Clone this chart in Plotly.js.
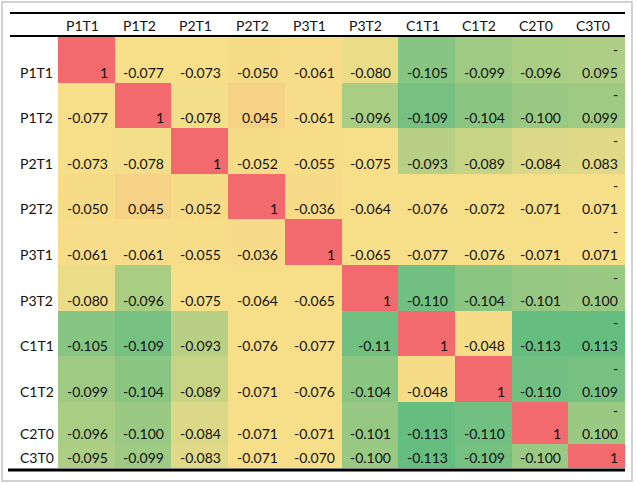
<!DOCTYPE html>
<html>
<head>
<meta charset="utf-8">
<script src="https://cdn.plot.ly/plotly-3.0.1.min.js"></script>
<style>
  html, body { margin: 0; padding: 0; background: #ffffff; }
  #chart { width: 637px; height: 484px; }
</style>
</head>
<body>
<div id="chart"></div>
<script>
// ---- data (displayed cell text, row by row) ----
var columns = ["P1T1", "P1T2", "P2T1", "P2T2", "P3T1", "P3T2", "C1T1", "C1T2", "C2T0", "C3T0"];
var rowsLabels = ["P1T1", "P1T2", "P2T1", "P2T2", "P3T1", "P3T2", "C1T1", "C1T2", "C2T0", "C3T0"];
var rowP1T1 = ["1", "-0.077", "-0.073", "-0.050", "-0.061", "-0.080", "-0.105", "-0.099", "-0.096", "-0.095"];
var rowP1T2 = ["-0.077", "1", "-0.078", "0.045", "-0.061", "-0.096", "-0.109", "-0.104", "-0.100", "-0.099"];
var rowP2T1 = ["-0.073", "-0.078", "1", "-0.052", "-0.055", "-0.075", "-0.093", "-0.089", "-0.084", "-0.083"];
var rowP2T2 = ["-0.050", "0.045", "-0.052", "1", "-0.036", "-0.064", "-0.076", "-0.072", "-0.071", "-0.071"];
var rowP3T1 = ["-0.061", "-0.061", "-0.055", "-0.036", "1", "-0.065", "-0.077", "-0.076", "-0.071", "-0.071"];
var rowP3T2 = ["-0.080", "-0.096", "-0.075", "-0.064", "-0.065", "1", "-0.110", "-0.104", "-0.101", "-0.100"];
var rowC1T1 = ["-0.105", "-0.109", "-0.093", "-0.076", "-0.077", "-0.11", "1", "-0.048", "-0.113", "-0.113"];
var rowC1T2 = ["-0.099", "-0.104", "-0.089", "-0.071", "-0.076", "-0.104", "-0.048", "1", "-0.110", "-0.109"];
var rowC2T0 = ["-0.096", "-0.100", "-0.084", "-0.071", "-0.071", "-0.101", "-0.113", "-0.110", "1", "-0.100"];
var rowC3T0 = ["-0.095", "-0.099", "-0.083", "-0.071", "-0.070", "-0.100", "-0.113", "-0.109", "-0.100", "1"];
var cellText = [rowP1T1, rowP1T2, rowP2T1, rowP2T2, rowP3T1, rowP3T2, rowC1T1, rowC1T2, rowC2T0, rowC3T0];

// ---- layout / style (pixel geometry of the table) ----
var W = 637, H = 484;
var L = 58, R = 625, T = 37, B = 468;
var rowHeights = [45.6, 45.6, 45.6, 45.6, 45.6, 45.6, 45.6, 45.6, 42, 24];
var FONT = "Lato, 'Open Sans', sans-serif";
var TEXT_COLOR = "#111111";
var GREEN = "#66bd80", YELLOW = "#f7df89", RED = "#f2696e";

var z = cellText.map(function (r) { return r.map(parseFloat); });

// Excel 3-colour scale: min -> green, 50th percentile -> yellow, max -> red
var all = [];
z.forEach(function (r) { r.forEach(function (v) { all.push(v); }); });
all.sort(function (a, b) { return a - b; });
var zmin = all[0], zmax = all[all.length - 1];
var median = (all[all.length / 2 - 1] + all[all.length / 2]) / 2;
var mid = (median - zmin) / (zmax - zmin);

// bin edges
var xEdges = [];
for (var i = 0; i <= columns.length; i++) xEdges.push(i);
var yEdges = [0];
rowHeights.forEach(function (h) { yEdges.push(yEdges[yEdges.length - 1] + h); });
var total = yEdges[yEdges.length - 1];

function pxX(px) { return (px - L) / (R - L); }
function pxY(py) { return (B - py) / (B - T); }

var annotations = [];
// column headers
columns.forEach(function (c, j) {
  annotations.push({
    x: j + 0.5, xref: "x", y: pxY(25), yref: "paper",
    text: c, showarrow: false, xanchor: "center", yanchor: "middle", xshift: -4,
    font: { family: FONT, size: 14, color: TEXT_COLOR }
  });
});
// row labels and cell text
rowsLabels.forEach(function (r, i) {
  var yb = yEdges[i + 1];
  annotations.push({
    x: pxX(18), xref: "paper", y: yb, yref: "y",
    text: r, showarrow: false, xanchor: "left", yanchor: "middle", yshift: 10.5,
    font: { family: FONT, size: 14, color: TEXT_COLOR }
  });
  cellText[i].forEach(function (t, j) {
    var wrapped = (j === columns.length - 1) && t.charAt(0) === "-";
    annotations.push({
      x: j + 1, xref: "x", y: yb, yref: "y",
      text: wrapped ? t.substring(1) : t, showarrow: false,
      xanchor: "right", yanchor: "middle", xshift: -5, yshift: 10.5,
      font: { family: FONT, size: 14, color: TEXT_COLOR }
    });
    if (wrapped) {
      annotations.push({
        x: j + 1, xref: "x", y: yb, yref: "y",
        text: "-", showarrow: false,
        xanchor: "right", yanchor: "middle", xshift: -5, yshift: 10.5 + 23,
        font: { family: FONT, size: 14, color: TEXT_COLOR }
      });
    }
  });
});

var shapes = [
  { type: "rect", xref: "paper", yref: "paper", x0: pxX(2), x1: pxX(632), y0: pxY(2), y1: pxY(481),
    line: { color: "#c4c4c4", width: 1.5 }, fillcolor: "rgba(0,0,0,0)", layer: "below" },
  { type: "line", xref: "paper", yref: "paper", x0: pxX(10), x1: pxX(625), y0: pxY(13), y1: pxY(13),
    line: { color: "#000000", width: 2.2 } },
  { type: "line", xref: "paper", yref: "paper", x0: pxX(10), x1: pxX(625), y0: pxY(36), y1: pxY(36),
    line: { color: "#000000", width: 2 } },
  { type: "line", xref: "paper", yref: "paper", x0: pxX(8), x1: pxX(625), y0: pxY(470), y1: pxY(470),
    line: { color: "#000000", width: 3 } }
];

var trace = {
  type: "heatmap",
  x: xEdges, y: yEdges, z: z,
  zmin: zmin, zmax: zmax,
  colorscale: [[0, GREEN], [mid, YELLOW], [1, RED]],
  showscale: false, hoverinfo: "skip", xgap: 0, ygap: 0
};

var layout = {
  width: W, height: H,
  margin: { l: L, r: W - R, t: T, b: H - B, pad: 0 },
  paper_bgcolor: "#ffffff", plot_bgcolor: "#ffffff",
  xaxis: { range: [0, columns.length], showgrid: false, zeroline: false, showticklabels: false, ticks: "", showline: false, fixedrange: true },
  yaxis: { range: [total, 0], showgrid: false, zeroline: false, showticklabels: false, ticks: "", showline: false, fixedrange: true },
  annotations: annotations,
  shapes: shapes,
  showlegend: false
};

Plotly.newPlot("chart", [trace], layout, { displayModeBar: false, staticPlot: true });
</script>
</body>
</html>
